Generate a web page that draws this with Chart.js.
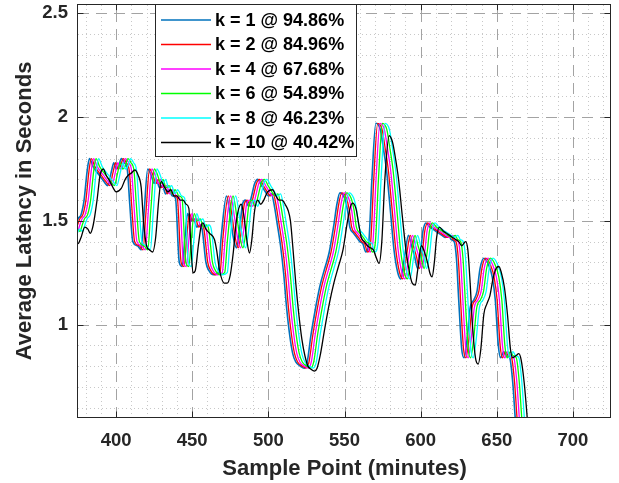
<!DOCTYPE html>
<html>
<head>
<meta charset="utf-8">
<script src="https://cdn.jsdelivr.net/npm/chart.js@4.4.1/dist/chart.umd.min.js"></script>
<style>
  html, body { margin: 0; padding: 0; background: #fff; }
  canvas { display: block; }
</style>
</head>
<body>
<canvas id="chart" width="619" height="483"></canvas>
<script>
// legend values
const kValues = [1, 2, 4, 6, 8, 10];
const hitRates = ['94.86', '84.96', '67.68', '54.89', '46.23', '40.42'];

// axis ticks
const xTickValues = [400, 450, 500, 550, 600, 650, 700];
const yTickValues = [1, 1.5, 2, 2.5];

const sharedLatency = [1.39, 1.43, 1.46, 1.45, 1.48, 1.51, 1.53, 1.60, 1.74, 1.80,
  1.76, 1.72, 1.69, 1.67, 1.74, 1.78, 1.75, 1.76, 1.80, 1.78,
  1.74, 1.58, 1.40, 1.38, 1.36, 1.55, 1.75, 1.72, 1.68, 1.70,
  1.66, 1.67, 1.63, 1.65, 1.62, 1.61, 1.30, 1.28, 1.40, 1.535,
  1.50, 1.51, 1.47, 1.48, 1.46, 1.30, 1.26, 1.24, 1.25, 1.42,
  1.62, 1.52, 1.42, 1.37, 1.45, 1.58, 1.60, 1.57, 1.62, 1.68,
  1.70, 1.67, 1.64, 1.62, 1.63, 1.57, 1.50, 1.38, 1.25, 1.08,
  0.95, 0.86, 0.82, 0.80, 0.79, 0.82, 0.95, 1.08, 1.19, 1.27,
  1.35, 1.48, 1.58, 1.635, 1.61, 1.55, 1.47, 1.44, 1.42, 1.40,
  1.39, 1.35, 1.40, 1.70, 1.97, 1.94, 1.85, 1.75, 1.56, 1.36,
  1.25, 1.22, 1.33, 1.43, 1.38, 1.33, 1.27, 1.35, 1.45, 1.49,
  1.47, 1.46, 1.45, 1.44, 1.43, 1.42, 1.43, 1.41, 1.40, 1.32,
  1.12, 0.88, 0.84, 0.93, 1.08, 1.12, 1.16, 1.27, 1.32, 1.29,
  1.23, 1.12, 0.90, 0.84, 0.87, 0.85, 0.84, 0.72, 0.56, 0.35];

const k1Minutes = [366, 368, 370, 372, 373.5, 375, 377, 379, 381, 382.5,
  385, 389, 392, 394.5, 397, 398.5, 400, 401.5, 403.5, 405.5,
  407.5, 409, 411, 414, 416.5, 418.5, 420.8, 423, 425, 426.5,
  428.5, 430.5, 432.5, 434.5, 437, 439, 441.5, 443.5, 445, 447,
  449, 451, 453, 455, 456.5, 459, 461, 464, 467, 469,
  472.5, 475, 477, 479, 481, 483, 485, 487, 489, 491,
  493, 495.5, 498, 500, 502, 504, 505.5, 508, 510, 512,
  514, 516, 518, 521, 523.5, 525.5, 528, 531, 534, 537,
  540, 543, 545, 547, 550, 552, 553.5, 556, 558, 560,
  562, 564, 566, 568, 570.6, 573.5, 575.5, 577.5, 580, 582.5,
  585, 587, 589.5, 592, 594, 596, 598, 600, 601.5, 603.5,
  606, 608, 610, 612, 614, 616, 618.5, 620, 622, 623.5,
  625, 627, 628.5, 630.5, 632.5, 635, 637, 639, 641.5, 644.5,
  647, 649, 651, 652.5, 654.5, 656.5, 658.5, 660.5, 662, 664];

const k2Minutes = [367.2, 369.2, 371.2, 373.2, 374.7, 376.2, 378.2, 380.2, 382.2, 383.7,
  386.2, 390.2, 393.2, 395.7, 398.2, 399.7, 401.2, 402.7, 404.7, 406.7,
  408.7, 410.2, 412.2, 415.2, 417.7, 419.7, 422, 424.2, 426.2, 427.7,
  429.7, 431.7, 433.7, 435.7, 438.2, 440.2, 442.7, 444.7, 446.2, 448.2,
  450.2, 452.2, 454.2, 456.2, 457.7, 460.2, 462.2, 465.2, 468.2, 470.2,
  473.7, 476.2, 478.2, 480.2, 482.2, 484.2, 486.2, 488.2, 490.2, 492.2,
  494.2, 496.7, 499.2, 501.2, 503.2, 505.2, 506.7, 509.2, 511.2, 513.2,
  515.2, 517.2, 519.2, 522.2, 524.7, 526.7, 529.2, 532.2, 535.2, 538.2,
  541.2, 544.2, 546.2, 548.2, 551.2, 553.2, 554.7, 557.2, 559.2, 561.2,
  563.2, 565.2, 567.2, 569.2, 571.8, 574.7, 576.7, 578.7, 581.2, 583.7,
  586.2, 588.2, 590.7, 593.2, 595.2, 597.2, 599.2, 601.2, 602.7, 604.7,
  607.2, 609.2, 611.2, 613.2, 615.2, 617.2, 619.7, 621.2, 623.2, 624.7,
  626.2, 628.2, 629.7, 631.7, 633.7, 636.2, 638.2, 640.2, 642.7, 645.7,
  648.2, 650.2, 652.2, 653.7, 655.7, 657.7, 659.7, 661.7, 663.2, 665.2];

const k4Minutes = [368.7, 370.7, 372.7, 374.7, 376.2, 377.7, 379.7, 381.7, 383.7, 385.2,
  387.7, 391.7, 394.7, 397.2, 399.7, 401.2, 402.7, 404.2, 406.2, 408.2,
  410.2, 411.7, 413.7, 416.7, 419.2, 421.2, 423.5, 425.7, 427.7, 429.2,
  431.2, 433.2, 435.2, 437.2, 439.7, 441.7, 444.2, 446.2, 447.7, 449.7,
  451.7, 453.7, 455.7, 457.7, 459.2, 461.7, 463.7, 466.7, 469.7, 471.7,
  475.2, 477.7, 479.7, 481.7, 483.7, 485.7, 487.7, 489.7, 491.7, 493.7,
  495.7, 498.2, 500.7, 502.7, 504.7, 506.7, 508.2, 510.7, 512.7, 514.7,
  516.7, 518.7, 520.7, 523.7, 526.2, 528.2, 530.7, 533.7, 536.7, 539.7,
  542.7, 545.7, 547.7, 549.7, 552.7, 554.7, 556.2, 558.7, 560.7, 562.7,
  564.7, 566.7, 568.7, 570.7, 573.3, 576.2, 578.2, 580.2, 582.7, 585.2,
  587.7, 589.7, 592.2, 594.7, 596.7, 598.7, 600.7, 602.7, 604.2, 606.2,
  608.7, 610.7, 612.7, 614.7, 616.7, 618.7, 621.2, 622.7, 624.7, 626.2,
  627.7, 629.7, 631.2, 633.2, 635.2, 637.7, 639.7, 641.7, 644.2, 647.2,
  649.7, 651.7, 653.7, 655.2, 657.2, 659.2, 661.2, 663.2, 664.7, 666.7];

const k6Minutes = [370.3, 372.3, 374.3, 376.3, 377.8, 379.3, 381.3, 383.3, 385.3, 386.8,
  389.3, 393.3, 396.3, 398.8, 401.3, 402.8, 404.3, 405.8, 407.8, 409.8,
  411.8, 413.3, 415.3, 418.3, 420.8, 422.8, 425.1, 427.3, 429.3, 430.8,
  432.8, 434.8, 436.8, 438.8, 441.3, 443.3, 445.8, 447.8, 449.3, 451.3,
  453.3, 455.3, 457.3, 459.3, 460.8, 463.3, 465.3, 468.3, 471.3, 473.3,
  476.8, 479.3, 481.3, 483.3, 485.3, 487.3, 489.3, 491.3, 493.3, 495.3,
  497.3, 499.8, 502.3, 504.3, 506.3, 508.3, 509.8, 512.3, 514.3, 516.3,
  518.3, 520.3, 522.3, 525.3, 527.8, 529.8, 532.3, 535.3, 538.3, 541.3,
  544.3, 547.3, 549.3, 551.3, 554.3, 556.3, 557.8, 560.3, 562.3, 564.3,
  566.3, 568.3, 570.3, 572.3, 574.9, 577.8, 579.8, 581.8, 584.3, 586.8,
  589.3, 591.3, 593.8, 596.3, 598.3, 600.3, 602.3, 604.3, 605.8, 607.8,
  610.3, 612.3, 614.3, 616.3, 618.3, 620.3, 622.8, 624.3, 626.3, 627.8,
  629.3, 631.3, 632.8, 634.8, 636.8, 639.3, 641.3, 643.3, 645.8, 648.8,
  651.3, 653.3, 655.3, 656.8, 658.8, 660.8, 662.8, 664.8, 666.3, 668.3];

const k8Minutes = [372, 374, 376, 378, 379.5, 381, 383, 385, 387, 388.5,
  391, 395, 398, 400.5, 403, 404.5, 406, 407.5, 409.5, 411.5,
  413.5, 415, 417, 420, 422.5, 424.5, 426.8, 429, 431, 432.5,
  434.5, 436.5, 438.5, 440.5, 443, 445, 447.5, 449.5, 451, 453,
  455, 457, 459, 461, 462.5, 465, 467, 470, 473, 475,
  478.5, 481, 483, 485, 487, 489, 491, 493, 495, 497,
  499, 501.5, 504, 506, 508, 510, 511.5, 514, 516, 518,
  520, 522, 524, 527, 529.5, 531.5, 534, 537, 540, 543,
  546, 549, 551, 553, 556, 558, 559.5, 562, 564, 566,
  568, 570, 572, 574, 576.6, 579.5, 581.5, 583.5, 586, 588.5,
  591, 593, 595.5, 598, 600, 602, 604, 606, 607.5, 609.5,
  612, 614, 616, 618, 620, 622, 624.5, 626, 628, 629.5,
  631, 633, 634.5, 636.5, 638.5, 641, 643, 645, 647.5, 650.5,
  653, 655, 657, 658.5, 660.5, 662.5, 664.5, 666.5, 668, 670];

// k = 10 has its own, smoother shape
const k10Minutes = [372, 375, 377, 379.5, 381.5, 383, 385, 387.5, 389.5, 391.6,
  393.5, 396, 398, 400, 403.4, 406, 408, 410, 412.3, 414.5,
  416.5, 418, 420, 422, 424, 426, 428, 429.6, 432, 434,
  436, 438, 440, 442, 444, 446, 447.8, 449, 450.5, 452,
  454, 456, 457, 459, 461.4, 464.6, 466, 468, 471, 473,
  475, 477, 479, 482.2, 484, 486, 487.6, 489, 491, 493,
  495, 497, 499.5, 502.8, 505, 507, 509, 511, 513, 514.5,
  516, 518, 520, 522, 524, 526, 528, 530.2, 532, 534,
  537, 540, 543, 546, 549, 552, 554, 555.3, 557.5, 559,
  561, 563, 565, 567, 569, 570.5, 572.7, 574.5, 576.5, 579.3,
  581.5, 583.5, 585.5, 588, 590.5, 593, 594.5, 596.5, 598, 600.5,
  602.5, 604.5, 606, 607.5, 609, 610.5, 612.3, 615, 617, 619,
  621, 623, 625, 627, 629.5, 631, 632.5, 634, 636, 637.8,
  639.5, 641.5, 643.5, 645.5, 647.5, 649.5, 651.4, 653, 655, 657,
  659, 660.5, 662.5, 664.5, 666, 668, 670, 672];

const k10Latency = [1.40, 1.39, 1.42, 1.47, 1.46, 1.44, 1.48, 1.60, 1.72, 1.75,
  1.72, 1.69, 1.66, 1.64, 1.656, 1.70, 1.72, 1.73, 1.745, 1.72,
  1.66, 1.50, 1.38, 1.36, 1.35, 1.42, 1.60, 1.69, 1.66, 1.64,
  1.65, 1.62, 1.62, 1.60, 1.60, 1.58, 1.56, 1.40, 1.25, 1.26,
  1.38, 1.48, 1.49, 1.46, 1.44, 1.41, 1.36, 1.26, 1.20, 1.20,
  1.24, 1.35, 1.50, 1.58, 1.52, 1.40, 1.345, 1.40, 1.55, 1.60,
  1.58, 1.60, 1.64, 1.65, 1.62, 1.60, 1.60, 1.58, 1.55, 1.50,
  1.38, 1.20, 1.05, 0.93, 0.85, 0.80, 0.785, 0.776, 0.79, 0.85,
  0.98, 1.10, 1.20, 1.28, 1.36, 1.50, 1.57, 1.585, 1.56, 1.50,
  1.42, 1.40, 1.38, 1.37, 1.36, 1.33, 1.295, 1.40, 1.70, 1.91,
  1.88, 1.80, 1.70, 1.52, 1.35, 1.24, 1.20, 1.19, 1.26, 1.38,
  1.35, 1.30, 1.25, 1.23, 1.30, 1.42, 1.47, 1.45, 1.44, 1.43,
  1.42, 1.41, 1.40, 1.38, 1.40, 1.36, 1.20, 1.00, 0.84, 0.81,
  0.88, 1.05, 1.10, 1.14, 1.22, 1.27, 1.28, 1.25, 1.18, 1.05,
  0.88, 0.84, 0.85, 0.86, 0.83, 0.72, 0.55, 0.35];

const INK = '#262626';
const FONT = "'Liberation Sans', Arial, Helvetica, sans-serif";
const lineColors = ['#0072BD', '#FF0000', '#FF00FF', '#00FF00', '#00FFFF', '#000000'];
const lineWidths = [1.6, 1.3, 1.3, 1.3, 1.3, 1.3];

const seriesMinutes = [k1Minutes, k2Minutes, k4Minutes, k6Minutes, k8Minutes, k10Minutes];
const seriesLatency = [sharedLatency, sharedLatency, sharedLatency, sharedLatency, sharedLatency, k10Latency];

const datasets = kValues.map((k, i) => ({
  label: 'k = ' + k + ' @ ' + hitRates[i] + '%',
  data: seriesMinutes[i].map((m, j) => ({x: m, y: seriesLatency[i][j]})),
  borderColor: lineColors[i],
  borderWidth: lineWidths[i],
  pointRadius: 0,
  cubicInterpolationMode: 'monotone',
  order: kValues.length - 1 - i   // later curves on top, like the original
}));

// MATLAB-like grid, box, inward ticks and legend
const matlabAxes = {
  id: 'matlabAxes',
  beforeDatasetsDraw(chart) {
    const {ctx, chartArea: a, scales: {x, y}} = chart;
    ctx.save();
    ctx.lineWidth = 1;
    // minor dotted grid
    ctx.strokeStyle = '#c8c8c8';
    ctx.setLineDash([1, 3]);
    ctx.beginPath();
    for (let v = 380; v < 725; v += 10) {
      if (xTickValues.includes(v)) continue;
      const px = Math.round(x.getPixelForValue(v)) + 0.5;
      ctx.moveTo(px, a.bottom); ctx.lineTo(px, a.top);
    }
    for (let i = 6; i <= 25; i++) {
      if (i % 5 === 0) continue;
      const py = Math.round(y.getPixelForValue(i / 10)) + 0.5;
      ctx.moveTo(a.left, py); ctx.lineTo(a.right, py);
    }
    ctx.stroke();
    // major dashed grid
    ctx.strokeStyle = '#a3a3a3';
    ctx.setLineDash([11, 7]);
    ctx.beginPath();
    xTickValues.forEach(v => {
      const px = Math.round(x.getPixelForValue(v)) + 0.5;
      ctx.moveTo(px, a.bottom); ctx.lineTo(px, a.top);
    });
    yTickValues.forEach(v => {
      const py = Math.round(y.getPixelForValue(v)) + 0.5;
      ctx.moveTo(a.left, py); ctx.lineTo(a.right, py);
    });
    ctx.stroke();
    ctx.restore();
  },
  afterDatasetsDraw(chart) {
    const {ctx, chartArea: a, scales: {x, y}} = chart;
    const L = Math.round(a.left) - 0.5, R = Math.round(a.right) - 0.5;
    const T = Math.round(a.top) + 0.5, B = Math.round(a.bottom) - 0.5;
    ctx.save();
    ctx.strokeStyle = INK;
    ctx.lineWidth = 1;
    ctx.setLineDash([]);
    ctx.strokeRect(L, T, R - L, B - T);
    const tl = 6;
    ctx.beginPath();
    xTickValues.forEach(v => {
      const px = Math.round(x.getPixelForValue(v)) + 0.5;
      ctx.moveTo(px, B); ctx.lineTo(px, B - tl);
      ctx.moveTo(px, T); ctx.lineTo(px, T + tl);
    });
    yTickValues.forEach(v => {
      const py = Math.round(y.getPixelForValue(v)) + 0.5;
      ctx.moveTo(L, py); ctx.lineTo(L + tl, py);
      ctx.moveTo(R, py); ctx.lineTo(R - tl, py);
    });
    ctx.stroke();
    ctx.restore();
  },
  afterDraw(chart) {
    const {ctx} = chart;
    const lx = 155.5, ly = 4.5, lw = 201, lh = 152;
    ctx.save();
    ctx.fillStyle = '#fff';
    ctx.fillRect(lx, ly, lw, lh);
    ctx.strokeStyle = INK;
    ctx.lineWidth = 1;
    ctx.strokeRect(lx, ly, lw, lh);
    ctx.font = 'bold 18px ' + FONT;
    ctx.textBaseline = 'middle';
    ctx.textAlign = 'left';
    chart.data.datasets.forEach((ds, i) => {
      const ry = 20 + i * 24.5;
      ctx.strokeStyle = ds.borderColor;
      ctx.lineWidth = 1.6;
      ctx.beginPath();
      ctx.moveTo(161, ry); ctx.lineTo(211, ry);
      ctx.stroke();
      ctx.fillStyle = '#000';
      ctx.fillText(ds.label, 215, ry + 1);
    });
    ctx.restore();
  }
};

new Chart(document.getElementById('chart'), {
  type: 'line',
  data: {datasets: datasets},
  options: {
    responsive: false,
    animation: false,
    layout: {padding: {top: 4, right: 8, left: 0, bottom: 0}},
    plugins: {legend: {display: false}, tooltip: {enabled: false}},
    scales: {
      x: {
        type: 'linear',
        min: 375,
        max: 725,
        afterBuildTicks: s => { s.ticks = xTickValues.map(v => ({value: v})); },
        afterFit: s => { s.height = 65; s.paddingLeft = 0; s.paddingRight = 0; },
        grid: {display: false, drawTicks: false},
        border: {display: false},
        ticks: {
          color: INK,
          font: {family: FONT, size: 18.5, weight: 'bold'},
          padding: 12,
          maxRotation: 0,
          autoSkip: false
        },
        title: {
          display: true,
          text: 'Sample Point (minutes)',
          color: INK,
          font: {family: FONT, size: 22, weight: 'bold'},
          padding: {top: 0, bottom: 1}
        }
      },
      y: {
        type: 'linear',
        min: 0.55,
        max: 2.545,
        afterBuildTicks: s => { s.ticks = yTickValues.map(v => ({value: v})); },
        afterFit: s => { s.width = 78; s.paddingTop = 0; s.paddingBottom = 0; },
        grid: {display: false, drawTicks: false},
        border: {display: false},
        ticks: {
          color: INK,
          font: {family: FONT, size: 18.5, weight: 'bold'},
          padding: 10,
          callback: v => String(v)
        },
        title: {
          display: true,
          text: 'Average Latency in Seconds',
          color: INK,
          font: {family: FONT, size: 22, weight: 'bold'},
          padding: {top: 11.6, bottom: 0}
        }
      }
    }
  },
  plugins: [matlabAxes]
});
</script>
</body>
</html>
